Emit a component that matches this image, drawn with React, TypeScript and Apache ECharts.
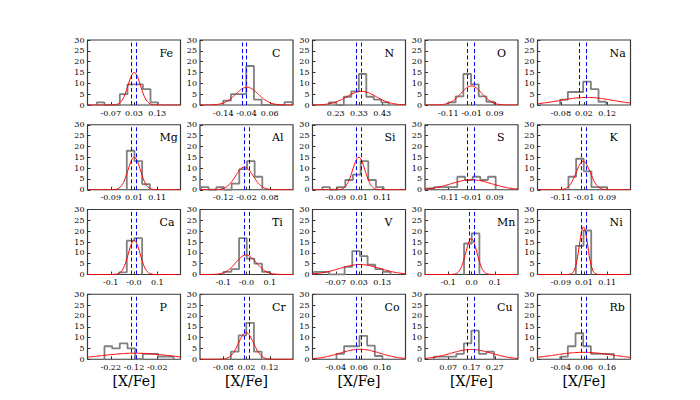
import React, { useEffect, useRef } from "react";
import * as echarts from "echarts";

// ---------- data ----------
const elements = ["Fe", "C", "N", "O", "Na", "Mg", "Al", "Si", "S", "K", "Ca", "Ti", "V", "Mn", "Ni", "P", "Cr", "Co", "Cu", "Rb"];

const tickLabels: string[][] = [
  ["-0.07", "0.03", "0.13"], ["-0.14", "-0.04", "0.06"], ["0.23", "0.33", "0.43"], ["-0.11", "-0.01", "0.09"], ["-0.08", "0.02", "0.12"],
  ["-0.09", "0.01", "0.11"], ["-0.12", "-0.02", "0.08"], ["-0.09", "0.01", "0.11"], ["-0.11", "-0.01", "0.09"], ["-0.11", "-0.01", "0.09"],
  ["-0.1", "-0.0", "0.1"], ["-0.1", "-0.0", "0.1"], ["-0.07", "0.03", "0.13"], ["-0.1", "0.0", "0.1"], ["-0.09", "0.01", "0.11"],
  ["-0.22", "-0.12", "-0.02"], ["-0.08", "0.02", "0.12"], ["-0.04", "0.06", "0.16"], ["0.07", "0.17", "0.27"], ["-0.04", "0.06", "0.16"],
];

const yTicks = [0, 5, 10, 15, 20, 25, 30];

// histogram: first bin edge, bin width, bin heights
const histStart = [-0.13, -0.14, 0.2, -0.111, -0.0825, -0.021, -0.216, -0.148, -0.203, -0.077, -0.064, -0.098, -0.164, -0.032, -0.025, -0.247, -0.047, -0.037, 0.008, -0.0425];
const histWidth = [0.033, 0.033, 0.0323, 0.033, 0.033, 0.033, 0.033, 0.033, 0.033, 0.033, 0.033, 0.033, 0.033, 0.033, 0.033, 0.033, 0.033, 0.033, 0.0323, 0.033];
const histCounts: number[][] = [
  [1.2, 0, 0, 5, 9.5, 9.5, 7.3, 1.2],
  [2, 5, 5, 18, 2.5, 0, 0, 0, 1.3],
  [1.2, 0, 3.8, 6.3, 14.3, 3.8, 2.5, 1.2],
  [1.2, 4, 14.3, 9.5, 4, 1.5],
  [2.5, 6, 6, 10.8, 7.3, 1.5],
  [18, 13.2, 2.6],
  [1.2, 0, 1.2, 0, 2.8, 9.5, 13.2, 6],
  [1.2, 0, 1.2, 4.5, 7, 13.2, 4.5, 1.2],
  [0.6, 1.2, 1.2, 1.2, 6, 4.5, 6, 4.5, 6],
  [6, 14.3, 8.5, 1.2, 1.2],
  [1, 15.6, 16.8],
  [1.2, 2.5, 16.8, 7.3, 5, 1.2],
  [1.2, 1.2, 0, 0, 3.5, 10.8, 8.5, 4.5, 2.5, 1.2],
  [14.3, 19],
  [13.2, 20.3],
  [6, 5, 7.3, 5, 0, 2.5, 2.5, 1.2, 1.2],
  [3.5, 11, 16.8, 3.5],
  [2.5, 6, 6, 10.8, 6.3, 1.5],
  [1.2, 1.2, 1.2, 2.5, 7.3, 13.2, 2.5, 3.5],
  [1.2, 6, 12, 6, 2.5, 2.5, 2.5],
];

// fitted gaussian: mean, sigma, peak height
const fitMean = [0.031, -0.038, 0.341, -0.0107, 0.032, 0.0108, -0.029, 0.009, -0.0107, -0.0135, 0.0008, -0.002, 0.0336, -0.0007, 0.0079, -0.115, 0.018, 0.0636, 0.169, 0.058];
const fitSigma = [0.0266, 0.0487, 0.0633, 0.0453, 0.114, 0.0266, 0.038, 0.0266, 0.0867, 0.0302, 0.0253, 0.0443, 0.0867, 0.0242, 0.0181, 0.142, 0.0324, 0.0867, 0.0887, 0.1247];
const fitPeak = [15, 8.2, 6.3, 8.8, 3.5, 15, 10.5, 15, 4.6, 13.2, 15.8, 9, 4.6, 16.5, 22, 2.8, 12.3, 4.6, 4.5, 3.2];

// blue dashed reference lines
const lineA = [0.024, -0.055, 0.319, -0.0265, 0.0035, 0.0036, -0.032, -0.001, -0.025, -0.024, -0.009, -0.0136, 0.019, -0.009, 0.0007, -0.125, 0.0064, 0.049, 0.153, 0.0507];
const lineB = [0.041, -0.035, 0.336, 0.002, 0.028, 0.021, -0.015, 0.0165, 0.001, -0.0035, 0.011, 0.005, 0.036, 0.011, 0.018, -0.108, 0.025, 0.066, 0.183, 0.068];

// ---------- layout ----------
const COLS = 5;
const ROWS = 4;
const PANEL_W = 93;
const PANEL_H = 65;
const LEFT0 = 87.5;
const DX = 112.5;
const TOP0 = 40;
const DY = 84.75;
const HALF_SPAN = 0.2;
const FONT = "'DejaVu Serif', 'Liberation Serif', serif";

export default function App() {
  const ref = useRef<HTMLDivElement>(null);

  useEffect(() => {
    const chart = echarts.init(ref.current!, null, { renderer: "svg" });
    const grids: any[] = [];
    const xAxes: any[] = [];
    const yAxes: any[] = [];
    const series: any[] = [];
    const graphics: any[] = [];

    elements.forEach((el, i) => {
      const r = Math.floor(i / COLS);
      const c = i % COLS;
      const left = LEFT0 + c * DX;
      const top = TOP0 + r * DY;
      grids.push({
        left, top, width: PANEL_W, height: PANEL_H,
        show: true, borderColor: "#3a3a3a", borderWidth: 1.2, backgroundColor: "transparent",
      });
      const ticks = tickLabels[i].map((s) => parseFloat(s));
      const center = ticks[1];
      const labels = tickLabels[i];
      xAxes.push({
        type: "value", gridIndex: i,
        min: center - HALF_SPAN, max: center + HALF_SPAN,
        splitLine: { show: false },
        axisLine: { show: false, onZero: false },
        axisTick: { show: true, inside: true, length: 3, customValues: ticks, lineStyle: { color: "#333" } },
        axisLabel: {
          customValues: ticks,
          fontSize: 8, fontFamily: FONT, color: "#000", margin: 4,
          formatter: (v: number) => {
            let best = 0;
            ticks.forEach((t, k) => { if (Math.abs(t - v) < Math.abs(ticks[best] - v)) best = k; });
            return labels[best];
          },
        },
        name: r === ROWS - 1 ? "[X/Fe]" : "",
        nameLocation: "middle", nameGap: 15,
        nameTextStyle: { fontSize: 14, fontFamily: FONT, color: "#000" },
      });
      yAxes.push({
        type: "value", gridIndex: i, min: 0, max: 30, interval: 5,
        splitLine: { show: false },
        axisLine: { show: false, onZero: false },
        axisTick: { show: true, inside: true, length: 3, lineStyle: { color: "#333" } },
        axisLabel: {
          fontSize: 8, fontFamily: FONT, color: "#000", margin: 3,
          formatter: (v: number) => (yTicks.includes(v) ? String(v) : ""),
        },
      });

      // histogram outline (step)
      const counts = histCounts[i];
      const w = histWidth[i];
      const s0 = histStart[i];
      const pts: number[][] = [[s0, 0]];
      counts.forEach((h, k) => {
        pts.push([s0 + k * w, h]);
        pts.push([s0 + (k + 1) * w, h]);
      });
      pts.push([s0 + counts.length * w, 0]);
      series.push({
        type: "line", xAxisIndex: i, yAxisIndex: i, data: pts,
        showSymbol: false, symbol: "none",
        lineStyle: { color: "#808080", width: 1.8 },
        z: 2, silent: true,
      });

      // fitted gaussian curve
      const g: number[][] = [];
      const N = 160;
      for (let k = 0; k <= N; k++) {
        const x = center - HALF_SPAN + (2 * HALF_SPAN * k) / N;
        const d = (x - fitMean[i]) / fitSigma[i];
        g.push([x, fitPeak[i] * Math.exp(-0.5 * d * d)]);
      }
      series.push({
        type: "line", xAxisIndex: i, yAxisIndex: i, data: g,
        showSymbol: false, symbol: "none",
        lineStyle: { color: "#ff0000", width: 1 },
        z: 3, silent: true,
        markLine: {
          silent: true, symbol: ["none", "none"],
          label: { show: false },
          lineStyle: { color: "#0000ff", type: [4, 2.5], width: 1 },
          data: [{ xAxis: lineA[i] }, { xAxis: lineB[i] }],
          z: 4,
        },
      });

      graphics.push({
        type: "text",
        x: left + 72, y: top + 13,
        style: { text: el, fontSize: 11, fontFamily: FONT, fill: "#000", textAlign: "left", textVerticalAlign: "middle", verticalAlign: "middle" },
        z: 10,
      });
    });

    chart.setOption({
      animation: false,
      backgroundColor: "#ffffff",
      grid: grids,
      xAxis: xAxes,
      yAxis: yAxes,
      series,
      graphic: graphics,
    });
    return () => chart.dispose();
  }, []);

  return (
    <div
      ref={ref}
      style={{ position: "fixed", left: 0, top: 0, width: 700, height: 400, background: "#fff" }}
    />
  );
}
